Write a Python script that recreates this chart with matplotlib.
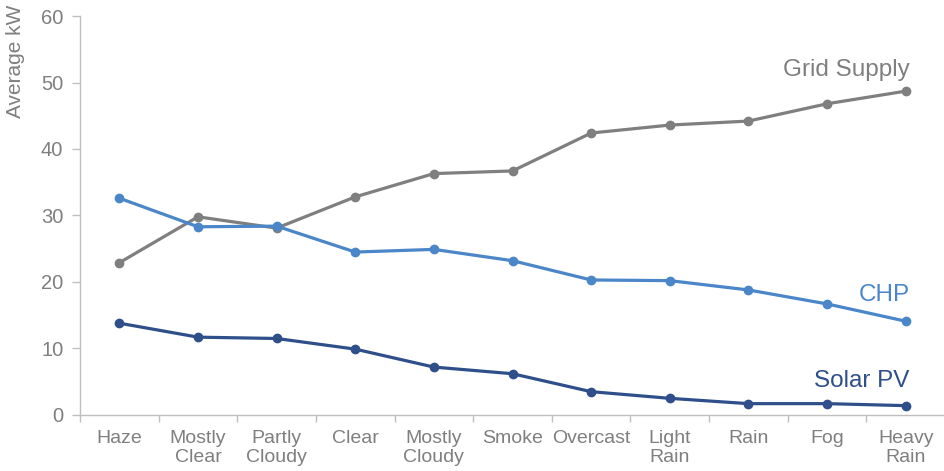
import matplotlib.pyplot as plt
import numpy as np

plt.rcParams['font.family'] = ['Liberation Sans', 'DejaVu Sans']

# weather conditions and average power per source
conditions = ['Haze', 'Mostly\nClear', 'Partly\nCloudy', 'Clear', 'Mostly\nCloudy',
              'Smoke', 'Overcast', 'Light\nRain', 'Rain', 'Fog', 'Heavy\nRain']
grid_supply = [22.9, 29.8, 28.1, 32.8, 36.3, 36.7, 42.4, 43.6, 44.2, 46.8, 48.7]
chp = [32.6, 28.3, 28.4, 24.5, 24.9, 23.2, 20.3, 20.2, 18.8, 16.7, 14.1]
solar_pv = [13.8, 11.7, 11.5, 9.9, 7.2, 6.2, 3.5, 2.5, 1.7, 1.7, 1.4]

GRAY = '#7f7f7f'
CHP_BLUE = '#4a86c8'
PV_BLUE = '#2f4f8a'
AXIS = '#bfbfbf'

fig = plt.figure(figsize=(9.45, 4.71), dpi=100)
ax = fig.add_axes([0.0847, 0.119, 0.9153, 0.847])

x = np.arange(len(conditions))
series = [(grid_supply, GRAY, 'Grid Supply', 51.9),
          (chp, CHP_BLUE, 'CHP', 18.0),
          (solar_pv, PV_BLUE, 'Solar PV', 5.1)]
for vals, col, name, ly in series:
    ax.plot(x, vals, color=col, lw=2.3, marker='o', ms=6, solid_capstyle='round')
    ax.text(10.05, ly, name, color=col, fontsize=17.5, ha='right', va='center')

ax.set_xlim(-0.5, len(conditions) - 0.5)
ax.set_ylim(0, 60)
ax.set_yticks(range(0, 61, 10))
ax.set_xticks(x)
ax.set_xticklabels(conditions, linespacing=1.1)
# tick marks sit between categories
ax.set_xticks(np.arange(-0.5, len(conditions), 1), minor=True)
ax.tick_params(axis='x', which='major', length=0, pad=11, labelsize=14, labelcolor=GRAY)
ax.tick_params(axis='x', which='minor', length=5, color=AXIS, width=1)
ax.tick_params(axis='y', length=6, color=AXIS, width=1, labelsize=14.5, labelcolor=GRAY, pad=6)

for s in ['top', 'right']:
    ax.spines[s].set_visible(False)
for s in ['left', 'bottom']:
    ax.spines[s].set_color(AXIS)
    ax.spines[s].set_linewidth(1)

fig.text(0.016, 0.99, 'Average kW', rotation=90, ha='center', va='top',
         fontsize=15, color=GRAY)

fig.savefig('out.png', dpi=100)
